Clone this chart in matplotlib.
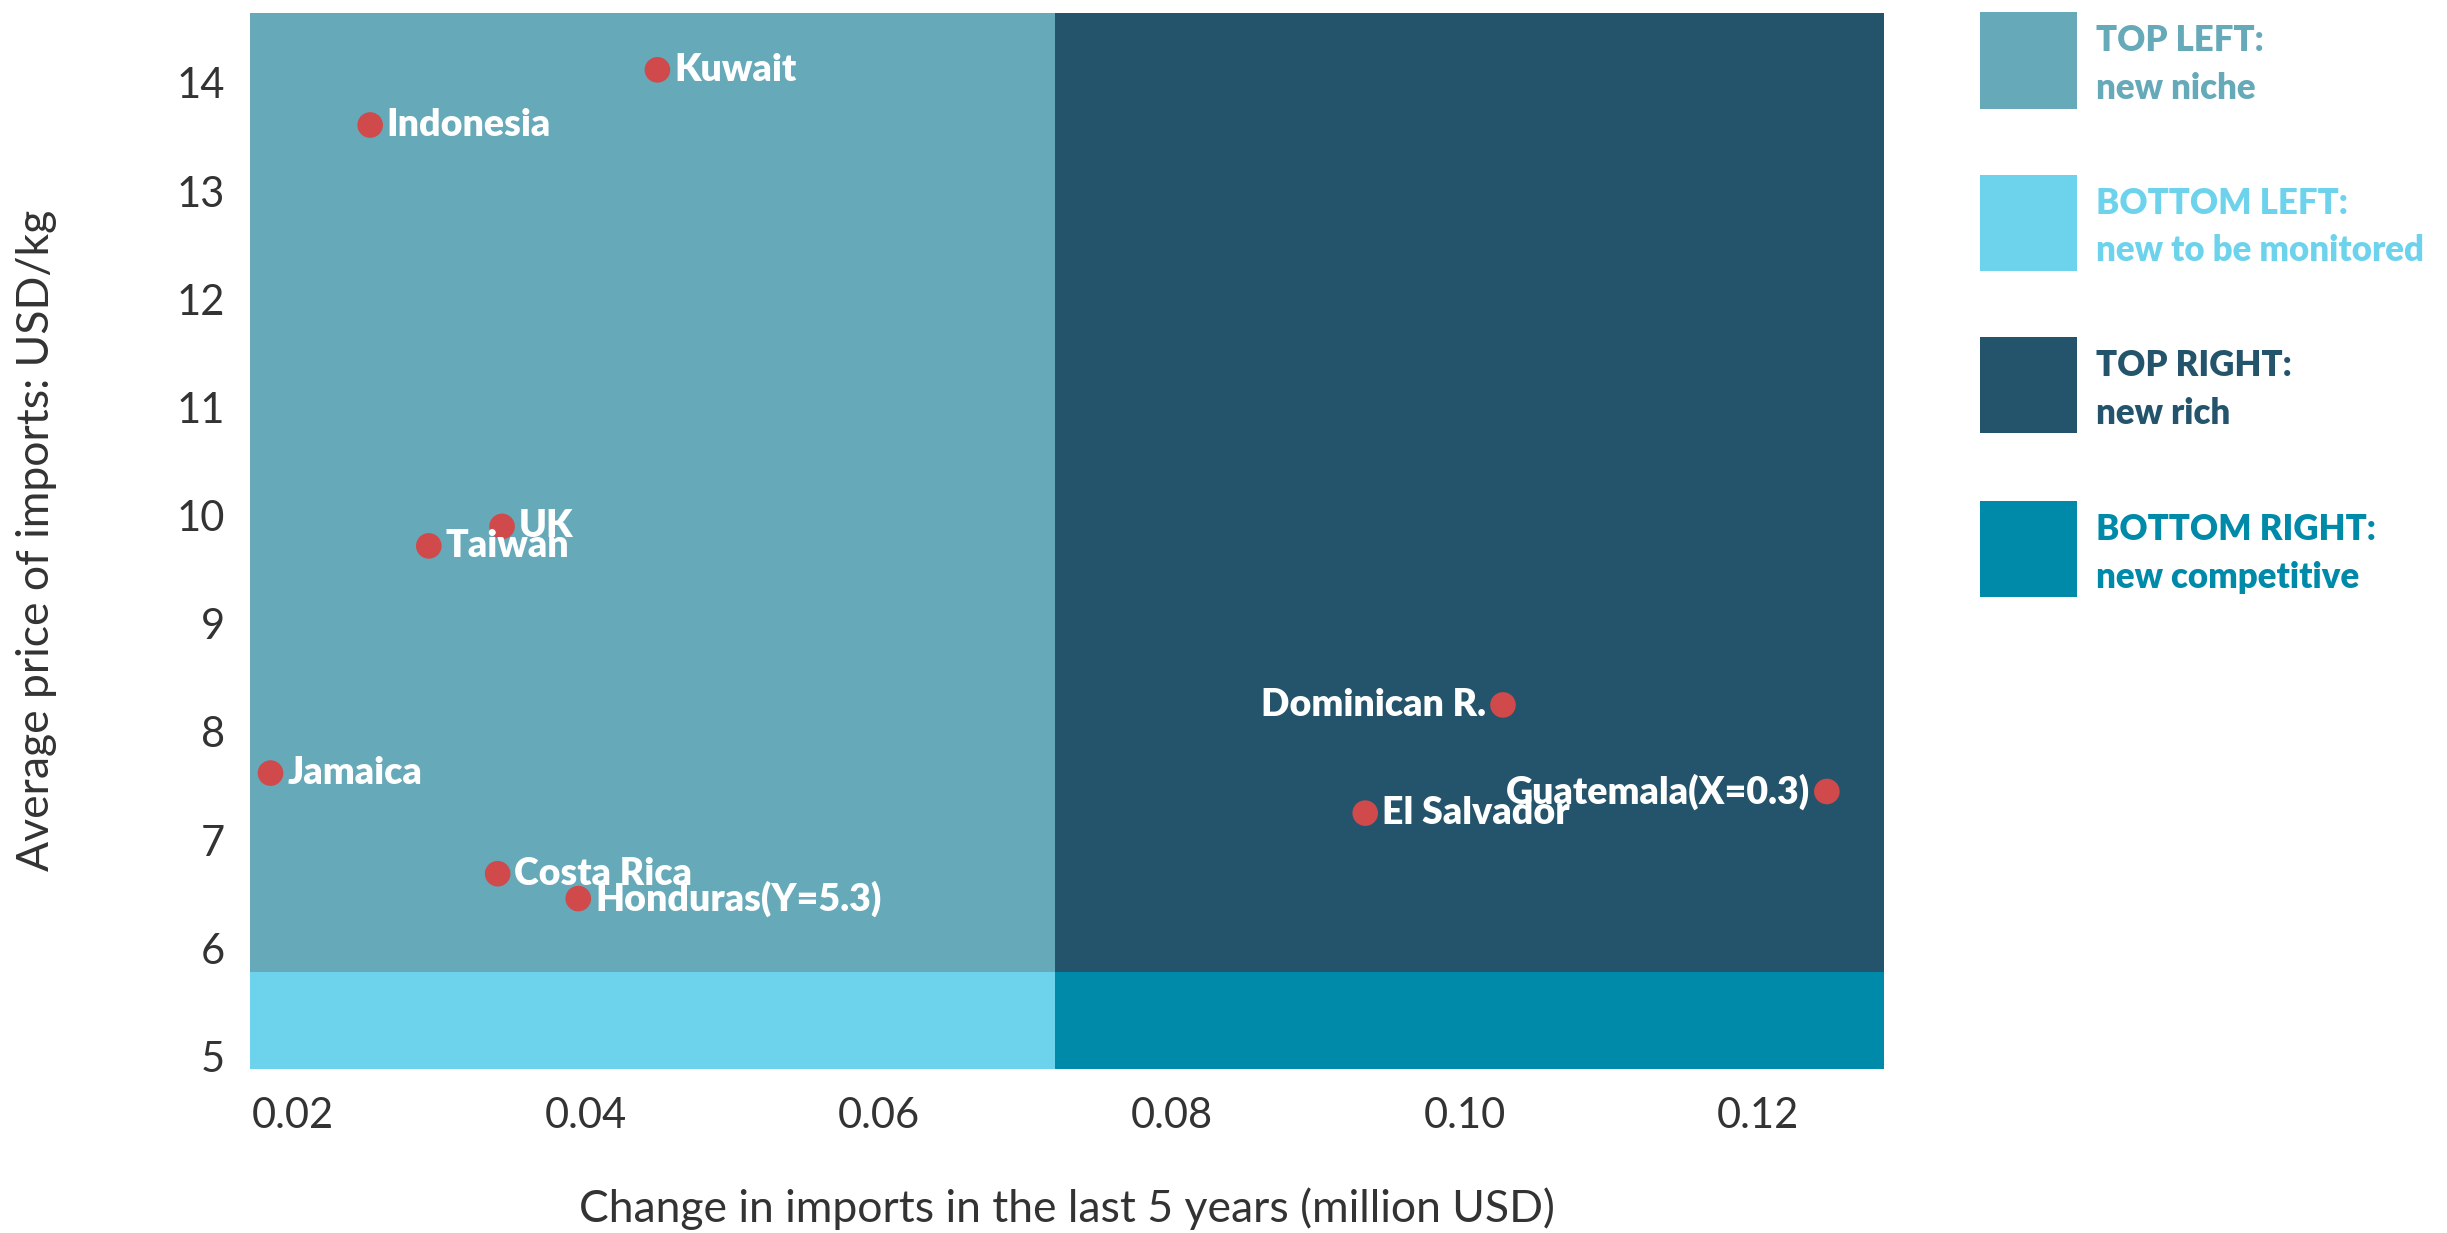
import matplotlib
matplotlib.use("Agg")
import matplotlib.pyplot as plt
from matplotlib.patches import Rectangle

plt.rcParams['font.family'] = ['Lato', 'DejaVu Sans']

# Countries: change in imports (million USD) vs average import price (USD/kg)
countries = ["Kuwait", "Indonesia", "UK", "Taiwan", "Jamaica", "Costa Rica",
             "Honduras(Y=5.3)", "Dominican R.", "El Salvador", "Guatemala(X=0.3)"]
change_imports = [0.0449, 0.0253, 0.0343, 0.0293, 0.0185, 0.0340,
                  0.0395, 0.1026, 0.0932, 0.1247]
avg_price = [14.12, 13.61, 9.90, 9.72, 7.62, 6.69,
             6.46, 8.25, 7.25, 7.45]
label_side = ["right", "right", "right", "right", "right", "right",
              "right", "left", "right", "left"]

# Quadrant thresholds and axis ranges
x_split = 0.072
y_split = 5.78
x_range = (0.0171, 0.1286)
y_range = (4.885, 14.65)

x_ticks = [0.02, 0.04, 0.06, 0.08, 0.10, 0.12]
x_tick_labels = ["0.02", "0.04", "0.06", "0.08", "0.10", "0.12"]
y_ticks = [5, 6, 7, 8, 9, 10, 11, 12, 13, 14]

quadrant_titles = ["TOP LEFT:", "BOTTOM LEFT:", "TOP RIGHT:", "BOTTOM RIGHT:"]
quadrant_names = ["new niche", "new to be monitored", "new rich", "new competitive"]
quadrant_colors = ["#66A9B9", "#6DD3EC", "#24546B", "#008AAA"]

W, H = 2447, 1233
fig = plt.figure(figsize=(W / 100, H / 100), dpi=100)
ax = fig.add_axes([250 / W, 1 - 1069 / H, (1884 - 250) / W, (1069 - 12.5) / H])

# Quadrant backgrounds
x0, x1 = x_range
y0, y1 = y_range
quads = [
    (x0, y_split, x_split - x0, y1 - y_split, quadrant_colors[0]),
    (x0, y0, x_split - x0, y_split - y0, quadrant_colors[1]),
    (x_split, y_split, x1 - x_split, y1 - y_split, quadrant_colors[2]),
    (x_split, y0, x1 - x_split, y_split - y0, quadrant_colors[3]),
]
for qx, qy, qw, qh, qc in quads:
    ax.add_patch(Rectangle((qx, qy), qw, qh, facecolor=qc, edgecolor="none", zorder=0))

ax.scatter(change_imports, avg_price, s=340, color="#D0494B", edgecolors="none", zorder=3)

for name, xv, yv, side in zip(countries, change_imports, avg_price, label_side):
    if side == "right":
        ax.annotate(name, (xv, yv), xytext=(12, 0), textcoords="offset points",
                    ha="left", va="center", color="white", fontsize=27,
                    fontweight="heavy", zorder=4)
    else:
        ax.annotate(name, (xv, yv), xytext=(-12, 0), textcoords="offset points",
                    ha="right", va="center", color="white", fontsize=27,
                    fontweight="heavy", zorder=4)

ax.set_xlim(x_range)
ax.set_ylim(y_range)
ax.set_xticks(x_ticks)
ax.set_xticklabels(x_tick_labels)
ax.set_yticks(y_ticks)
ax.tick_params(axis="both", length=0, labelsize=30, labelcolor="#333333")
ax.tick_params(axis="x", pad=20)
ax.tick_params(axis="y", pad=18)
for sp in ax.spines.values():
    sp.set_visible(False)

ax.set_xlabel("Change in imports in the last 5 years (million USD)",
              fontsize=32, color="#333333", labelpad=38)
ax.set_ylabel("Average price of imports: USD/kg",
              fontsize=32, color="#333333", labelpad=86)

# Quadrant legend on the right
sq_tops = [12.5, 175, 337, 501]
for top, title, name, col in zip(sq_tops, quadrant_titles, quadrant_names, quadrant_colors):
    fig.patches.append(Rectangle((1980 / W, 1 - (top + 96) / H), 97 / W, 96 / H,
                                 transform=fig.transFigure, facecolor=col,
                                 edgecolor="none"))
    fig.text(2096 / W, 1 - (top + 28) / H, title, color=col, fontsize=25,
             fontweight="heavy", ha="left", va="center")
    fig.text(2096 / W, 1 - (top + 76) / H, name, color=col, fontsize=25,
             fontweight="heavy", ha="left", va="center")

fig.savefig("out.png", dpi=100)
